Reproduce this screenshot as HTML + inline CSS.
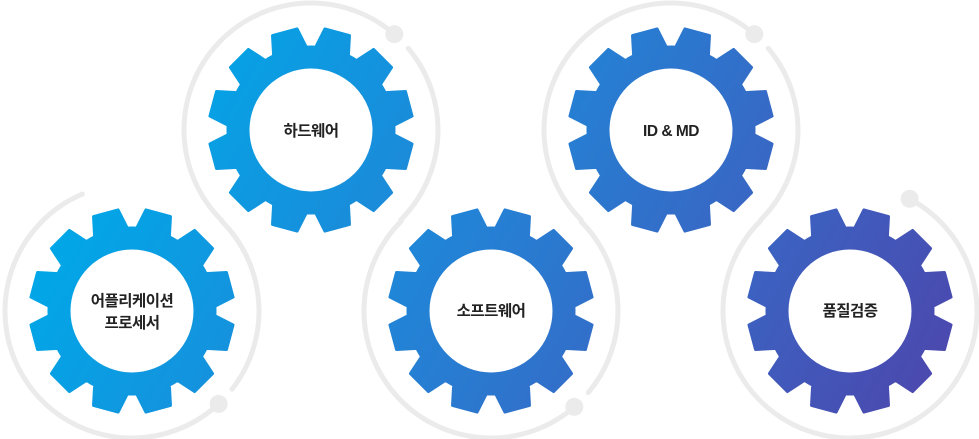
<!DOCTYPE html>
<html><head><meta charset="utf-8">
<style>
html,body{margin:0;padding:0;background:#fff;}
svg{display:block;}
text{font-family:"Liberation Sans","Noto Sans CJK KR",sans-serif;font-weight:bold;font-size:15.5px;fill:#222;text-anchor:middle;letter-spacing:-0.5px;}
</style></head>
<body>
<svg id="s" width="979" height="439" viewBox="0 0 979 439" xmlns="http://www.w3.org/2000/svg">
<defs>
<linearGradient id="g" gradientUnits="userSpaceOnUse" x1="150" y1="60" x2="880" y2="480">
<stop offset="0" stop-color="#00a8e8"/>
<stop offset="0.45" stop-color="#2580d4"/>
<stop offset="0.75" stop-color="#3c62c1"/>
<stop offset="1" stop-color="#4b48ae"/>
</linearGradient>
</defs>
<g id="arcs" fill="none" stroke="#ebebeb" stroke-width="5" stroke-linecap="round"></g>
<g id="dots" fill="#ebebeb"></g>
<g id="gears"></g>
<g id="labels">
<text x="132" y="306">어플리케이션</text>
<text x="132" y="328">프로세서</text>
<text x="311" y="136">하드웨어</text>
<text x="491" y="316">소프트웨어</text>
<text x="671" y="136">ID &amp; MD</text>
<text x="850" y="316">품질검증</text>
</g>
</svg>
<script>
var NS="http://www.w3.org/2000/svg";
var C=[[132,311],[311,130],[491,311],[671,130],[850,311]];
var R=127;
function pt(c,a){var r=a*Math.PI/180;return [c[0]+R*Math.cos(r),c[1]+R*Math.sin(r)];}
function arc(c,a1,a2){
  var p1=pt(c,a1),p2=pt(c,a2);var d=a2-a1;var large=Math.abs(d)>180?1:0;var sw=d>0?1:0;
  var p=document.createElementNS(NS,"path");
  p.setAttribute("d","M"+p1[0]+" "+p1[1]+" A"+R+" "+R+" 0 "+large+" "+sw+" "+p2[0]+" "+p2[1]);
  document.getElementById("arcs").appendChild(p);
}
function dot(c,a){var p=pt(c,a);var e=document.createElementNS(NS,"circle");e.setAttribute("cx",p[0]);e.setAttribute("cy",p[1]);e.setAttribute("r",9);document.getElementById("dots").appendChild(e);}
arc(C[0],247,47);dot(C[0],47);arc(C[0],38,-45);
arc(C[1],135,311);dot(C[1],311);arc(C[1],320,405);
arc(C[2],225,49);dot(C[2],49);arc(C[2],40,-45);
arc(C[3],135,311);dot(C[3],311);arc(C[3],320,405);
arc(C[4],225,-62);dot(C[4],-62);
function gear(c){
  var ro=102,rr=83,n=12,d="";
  for(var i=0;i<n;i++){
    var a=(i*30+15)*Math.PI/180;
    var tb=0.205,tt=0.125;
    var pts=[[rr,a-tb],[ro,a-tt],[ro,a+tt],[rr,a+tb]];
    for(var j=0;j<pts.length;j++){
      var x=c[0]+pts[j][0]*Math.cos(pts[j][1]),y=c[1]+pts[j][0]*Math.sin(pts[j][1]);
      d+=(i==0&&j==0?"M":"L")+x.toFixed(2)+" "+y.toFixed(2)+" ";
    }
    var na=((i+1)*30+15)*Math.PI/180-tb;
    var x2=c[0]+rr*Math.cos(na),y2=c[1]+rr*Math.sin(na);
    d+="A"+rr+" "+rr+" 0 0 1 "+x2.toFixed(2)+" "+y2.toFixed(2)+" ";
  }
  d+="Z M"+(c[0]+63)+" "+c[1]+" A63 63 0 1 0 "+(c[0]-63)+" "+c[1]+" A63 63 0 1 0 "+(c[0]+63)+" "+c[1]+" Z";
  var p=document.createElementNS(NS,"path");
  p.setAttribute("d",d);p.setAttribute("fill","url(#g)");p.setAttribute("fill-rule","evenodd");
  p.setAttribute("stroke","url(#g)");p.setAttribute("stroke-width","3");p.setAttribute("stroke-linejoin","round");
  document.getElementById("gears").appendChild(p);
}
C.forEach(gear);
</script>
</body></html>
